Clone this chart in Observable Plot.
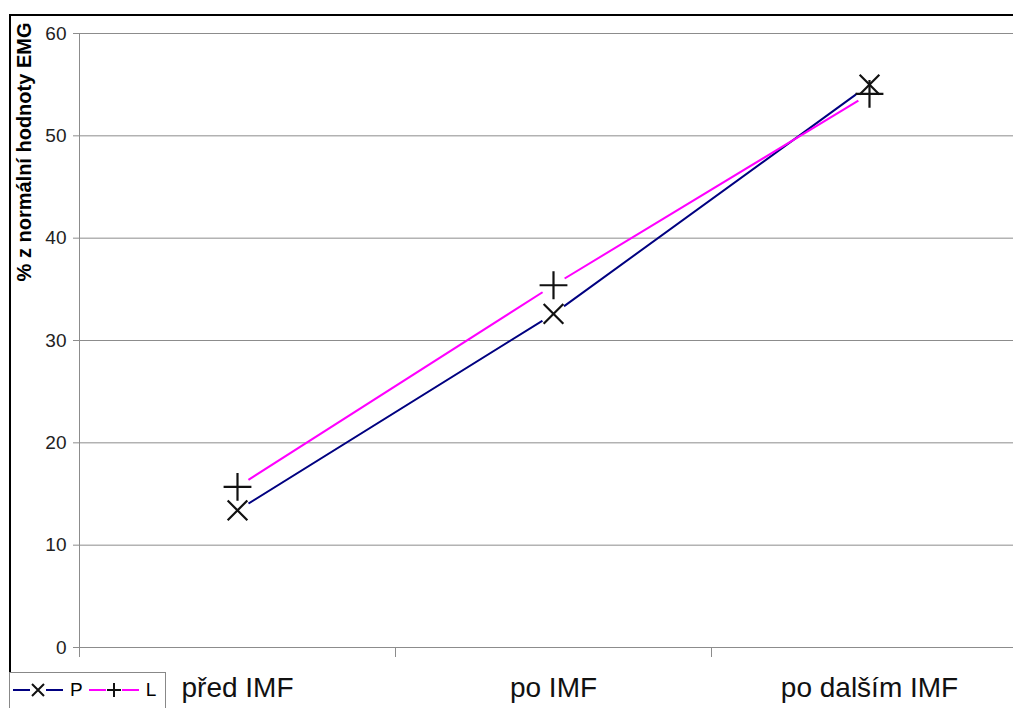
<!DOCTYPE html>
<html><head><meta charset="utf-8">
<script src="https://cdn.jsdelivr.net/npm/d3@7"></script>
<script src="https://cdn.jsdelivr.net/npm/@observablehq/plot@0.6"></script>
<style>
body{margin:0;background:#fff;font-family:"Liberation Sans",Arial,sans-serif;}
#wrap{position:relative;width:1013px;height:708px;overflow:hidden;}
#frame{position:absolute;left:9px;top:14px;width:1100px;height:800px;border-left:2px solid #000;border-top:2px solid #000;box-sizing:border-box;}
#legend{position:absolute;left:9px;top:672px;width:157px;height:40px;border:1px solid #888;background:#fff;box-sizing:border-box;font-family:"Liberation Sans",Arial,sans-serif;display:flex;align-items:center;padding-left:3px;padding-bottom:4px}
</style></head>
<body><div id="wrap"><div id="frame"></div></div>
<script>
const categories = ["před IMF", "po IMF", "po dalším IMF"];
const seriesP = [13.4, 32.6, 55.0];
const seriesL = [15.7, 35.4, 54.1];
const yTicks = [0, 10, 20, 30, 40, 50, 60];
const yTitle = "% z normální hodnoty EMG";

const rows = [];
categories.forEach((c, i) => {
  rows.push({cat: c, i, series: "P", value: seriesP[i]});
  rows.push({cat: c, i, series: "L", value: seriesL[i]});
});
const colors = {P: "#000080", L: "#ff00ff"};
const symbols = {P: "times", L: "plus"};

const chart = Plot.plot({
  width: 1013, height: 708,
  marginLeft: 79, marginTop: 33, marginBottom: 61, marginRight: -14,
  style: {fontFamily: "Liberation Sans, Arial, sans-serif", background: "transparent"},
  x: {type: "linear", domain: [0, categories.length], range: [79, 1027]},
  y: {domain: [0, 60], range: [647, 33]},
  marks: [
    Plot.gridY(yTicks, {stroke: "#8c8c8c", strokeOpacity: 1, strokeWidth: 1}),
    Plot.frame({anchor: "left", stroke: "#8c8c8c"}),
    Plot.frame({anchor: "bottom", stroke: "#8c8c8c"}),
    Plot.axisY({ticks: yTicks, tickSize: 6, tickFormat: () => "", stroke: "#8c8c8c", label: null}),
    Plot.text(yTicks, {y: d => d, text: d => String(d), frameAnchor: "left", textAnchor: "end", dx: -13, fontSize: 19, fill: "#222"}),
    Plot.axisX({ticks: [0, 1, 2, 3], tickSize: 10, tickFormat: () => "", stroke: "#8c8c8c", label: null}),
    Plot.text(categories, {x: (d, i) => i + 0.5, frameAnchor: "bottom", dy: 49, text: d => d, fontSize: 28, fill: "#111"}),
    Plot.line(rows, {x: d => d.i + 0.5, y: "value", z: "series", stroke: d => colors[d.series], strokeWidth: 2}),
    Plot.dot(rows, {x: d => d.i + 0.5, y: "value", r: 13, fill: "white", stroke: null}),
    Plot.dot(rows, {x: d => d.i + 0.5, y: "value", symbol: d => symbols[d.series], r: 9, stroke: "#111", strokeWidth: 2.2, fill: "none"})
  ]
});
const svg = d3.select(chart);
svg.style("position", "absolute").style("left", "0").style("top", "0").style("overflow", "visible");
svg.append("text").attr("transform", "translate(31,152) rotate(-90)").attr("text-anchor", "middle")
  .style("font-size", "20px").style("font-weight", "bold").attr("fill", "#000").text(yTitle);
document.getElementById("wrap").appendChild(chart);

// legend
const lg = document.createElement("div");
lg.id = "legend";
function item(name) {
  const s = document.createElementNS("http://www.w3.org/2000/svg", "svg");
  s.setAttribute("width", 50); s.setAttribute("height", 20);
  const g = d3.select(s);
  g.append("line").attr("x1", 0).attr("x2", 50).attr("y1", 10).attr("y2", 10).attr("stroke", colors[name]).attr("stroke-width", 2);
  g.append("rect").attr("x", 17).attr("y", 3).attr("width", 16).attr("height", 14).attr("fill", "white");
  if (name === "P") {
    g.append("path").attr("d", "M19,4L31,16M31,4L19,16").attr("stroke", "#111").attr("stroke-width", 2);
  } else {
    g.append("path").attr("d", "M25,3V17M18,10H32").attr("stroke", "#111").attr("stroke-width", 2);
  }
  lg.appendChild(s);
  const t = document.createElement("span");
  t.setAttribute("style", "font-size:19px;margin:0 6px 0 7px;line-height:20px;");
  t.textContent = name; lg.appendChild(t);
}
item("P"); item("L");
document.getElementById("wrap").appendChild(lg);
</script></body></html>
